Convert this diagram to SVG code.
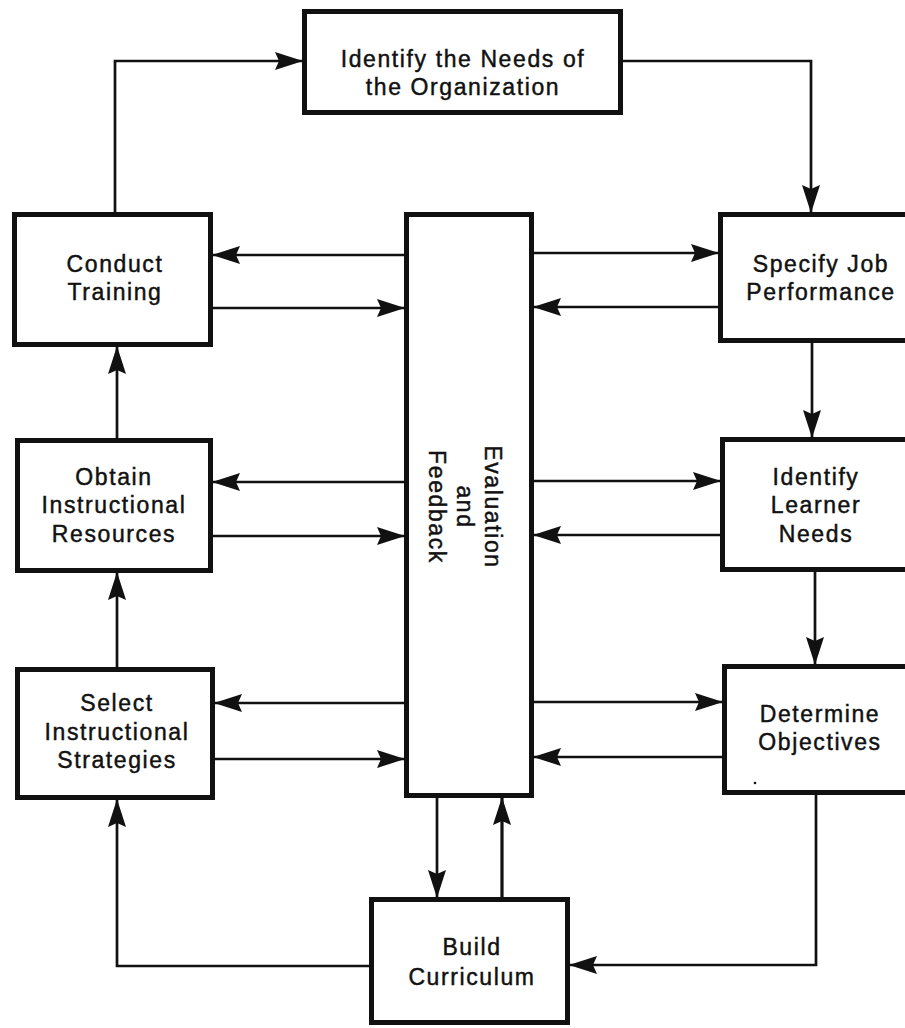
<svg xmlns="http://www.w3.org/2000/svg" width="905" height="1028" viewBox="0 0 905 1028">
<defs>
<style>
.box{fill:#fff;stroke:#111;stroke-width:5}
.ln{fill:none;stroke:#111;stroke-width:2.7;marker-end:url(#ah)}
text{font-family:"Liberation Sans",Arial,sans-serif;font-size:23px;letter-spacing:1.6px;fill:#111;stroke:#111;stroke-width:0.45;text-anchor:middle}
</style>
<marker id="ah" viewBox="0 0 28 19" refX="27" refY="9.5" markerWidth="28" markerHeight="19" orient="auto" markerUnits="userSpaceOnUse">
<path d="M28,9.5 L0,0.5 L4,9.5 L0,18.5 Z" fill="#111"/>
</marker>
</defs>
<rect width="905" height="1028" fill="#fff"/>
<g id="connectors">
<path class="ln" d="M115,212 V61 H302"/>
<path class="ln" d="M623,61 H811 V212"/>
<path class="ln" d="M404,255 H213"/>
<path class="ln" d="M213,308 H404"/>
<path class="ln" d="M534,253 H718"/>
<path class="ln" d="M718,307 H534"/>
<path class="ln" d="M812,343 V437"/>
<path class="ln" d="M117,438 V347"/>
<path class="ln" d="M404,482 H213"/>
<path class="ln" d="M213,536 H404"/>
<path class="ln" d="M534,481 H720"/>
<path class="ln" d="M720,535 H534"/>
<path class="ln" d="M815,572 V664"/>
<path class="ln" d="M117,667 V573"/>
<path class="ln" d="M404,703 H215"/>
<path class="ln" d="M215,759 H404"/>
<path class="ln" d="M534,702 H722"/>
<path class="ln" d="M722,757 H534"/>
<path class="ln" d="M816,795 V965 H570"/>
<path class="ln" d="M369,966 H117 V800"/>
<path class="ln" d="M437,798 V897"/>
<path class="ln" d="M502,897 V798" style="stroke-width:3.2"/>
</g>
<g id="node-organization">
<rect class="box" x="304.5" y="11.5" width="316" height="101"/>
<text x="463" y="67">Identify the Needs of</text>
<text x="463" y="95">the Organization</text>
</g>
<g id="node-conduct">
<rect class="box" x="14.5" y="214.5" width="196" height="130"/>
<text x="115" y="272">Conduct</text>
<text x="115" y="300">Training</text>
</g>
<g id="node-obtain">
<rect class="box" x="17.5" y="440.5" width="193" height="130"/>
<text x="114" y="485">Obtain</text>
<text x="114" y="513">Instructional</text>
<text x="114" y="542">Resources</text>
</g>
<g id="node-select">
<rect class="box" x="17.5" y="669.5" width="195" height="128"/>
<text x="117" y="711">Select</text>
<text x="117" y="740">Instructional</text>
<text x="117" y="768">Strategies</text>
</g>
<g id="node-evaluation">
<rect class="box" x="406.5" y="214.5" width="125" height="581"/>
<g transform="translate(465,507) rotate(90)">
<text x="0" y="-20">Evaluation</text>
<text x="0" y="8">and</text>
<text x="0" y="36">Feedback</text>
</g>
</g>
<g id="node-specify">
<rect class="box" x="720.5" y="214.5" width="200" height="126"/>
<text x="821" y="272">Specify Job</text>
<text x="821" y="300">Performance</text>
</g>
<g id="node-learner">
<rect class="box" x="722.5" y="439.5" width="200" height="130"/>
<text x="816" y="485">Identify</text>
<text x="816" y="513">Learner</text>
<text x="816" y="542">Needs</text>
</g>
<g id="node-objectives">
<rect class="box" x="724.5" y="666.5" width="200" height="126"/>
<text x="820" y="722">Determine</text>
<text x="820" y="750">Objectives</text>
<circle cx="755" cy="783" r="1.3" fill="#111"/>
</g>
<g id="node-curriculum">
<rect class="box" x="371.5" y="899.5" width="196" height="123"/>
<text x="472" y="955">Build</text>
<text x="472" y="985">Curriculum</text>
</g>
</svg>
